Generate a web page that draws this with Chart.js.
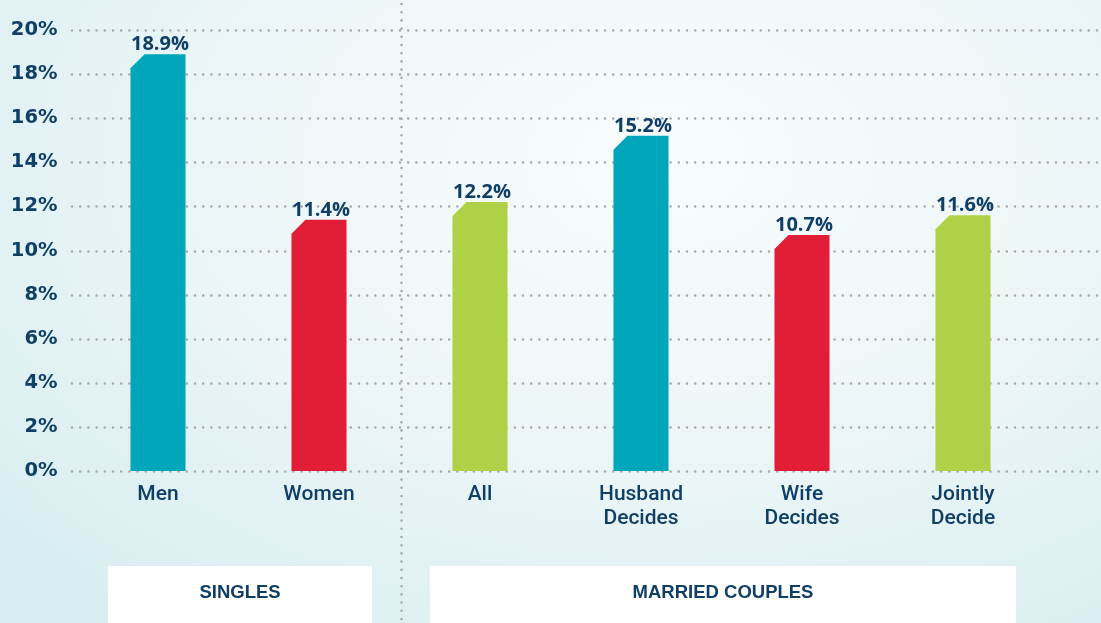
<!DOCTYPE html>
<html>
<head>
<meta charset="utf-8">
<script src="https://cdn.jsdelivr.net/npm/chart.js@4.4.1/dist/chart.umd.min.js"></script>
<style>
  html, body { margin: 0; padding: 0; }
  body {
    width: 1101px; height: 623px; overflow: hidden;
    background: radial-gradient(ellipse 78% 90% at 60% 26%, #f8fcfd 0%, #eef7f8 45%, #d9eef1 100%);
  }
  #wrap { position: relative; width: 1101px; height: 623px; }
</style>
</head>
<body>
<div id="wrap"><canvas id="chart" width="1101" height="623"></canvas></div>
<script>
const categories = [['Men'], ['Women'], ['All'], ['Husband', 'Decides'], ['Wife', 'Decides'], ['Jointly', 'Decide']];
const values = [18.9, 11.4, 12.2, 15.2, 10.7, 11.6];
const barColors = ['#00a6ba', '#e11d37', '#afd147', '#00a6ba', '#e11d37', '#afd147'];
const groupLabels = ['SINGLES', 'MARRIED COUPLES'];
const groupFirst = [0, 2];
const groupLast = [1, 5];
const yMax = 20;
const yStep = 2;

const NAVY = '#0f3e66';
const DOT = '#a9a9a9';

function dotted(ctx, x1, y1, x2, y2) {
  ctx.save();
  ctx.strokeStyle = DOT;
  ctx.lineWidth = 2.6;
  ctx.lineCap = 'round';
  ctx.setLineDash([0, 8.2]);
  ctx.beginPath();
  ctx.moveTo(x1, y1);
  ctx.lineTo(x2, y2);
  ctx.stroke();
  ctx.restore();
}

const gridPlugin = {
  id: 'dotGrid',
  beforeDatasetsDraw(chart) {
    const { ctx, scales: { x, y } } = chart;
    y.ticks.forEach(t => {
      const py = Math.round(y.getPixelForValue(t.value)) + 0.5;
      dotted(ctx, 72, py, chart.width, py);
    });
    // separator between the two groups
    const sx = (x.getPixelForValue(groupLast[0]) + x.getPixelForValue(groupFirst[1])) / 2 + 2;
    dotted(ctx, sx, 4, sx, chart.height);
  }
};

const bevelBars = {
  id: 'bevelBars',
  beforeDatasetDraw(chart, args) {
    const ctx = chart.ctx;
    const bevel = 14;
    args.meta.data.forEach((el, i) => {
      const { x, y, base, width } = el.getProps(['x', 'y', 'base', 'width'], true);
      const l = x - width / 2, r = x + width / 2;
      ctx.save();
      ctx.fillStyle = barColors[i];
      ctx.beginPath();
      ctx.moveTo(l, base);
      ctx.lineTo(l, y + bevel);
      ctx.lineTo(l + bevel, y);
      ctx.lineTo(r, y);
      ctx.lineTo(r, base);
      ctx.closePath();
      ctx.fill();
      ctx.restore();
    });
    return false;
  },
  afterDatasetsDraw(chart) {
    const ctx = chart.ctx;
    const meta = chart.getDatasetMeta(0);
    ctx.save();
    ctx.fillStyle = NAVY;
    ctx.font = 'bold 20px "Open Sans"';
    ctx.textAlign = 'center';
    ctx.textBaseline = 'alphabetic';
    meta.data.forEach((el, i) => {
      ctx.fillText(values[i].toFixed(1) + '%', el.x + 2, el.y - 4);
    });
    ctx.restore();
  }
};

const groupBoxes = {
  id: 'groupBoxes',
  afterDraw(chart) {
    const { ctx, scales: { x } } = chart;
    ctx.save();
    groupLabels.forEach((lab, g) => {
      const l = x.getPixelForValue(groupFirst[g]) - 50;
      const r = x.getPixelForValue(groupLast[g]) + 53;
      ctx.fillStyle = '#ffffff';
      ctx.fillRect(l, 566, r - l, chart.height - 566);
      ctx.fillStyle = NAVY;
      ctx.font = 'bold 18.5px "Liberation Sans"';
      ctx.textAlign = 'center';
      ctx.textBaseline = 'alphabetic';
      ctx.fillText(lab, (l + r) / 2, 598);
    });
    ctx.restore();
  }
};

new Chart(document.getElementById('chart'), {
  type: 'bar',
  data: {
    labels: categories,
    datasets: [{ data: values, backgroundColor: barColors, categoryPercentage: 1, barPercentage: 0.342 }]
  },
  options: {
    responsive: false,
    animation: false,
    devicePixelRatio: 1,
    layout: { padding: { top: 30, right: 57.5, left: 0, bottom: 0 } },
    plugins: { legend: { display: false }, tooltip: { enabled: false } },
    scales: {
      x: {
        offset: true,
        grid: { display: false },
        border: { display: false },
        ticks: { color: NAVY, font: { family: 'Roboto', size: 21, weight: 500, lineHeight: 1.15 }, padding: 4, maxRotation: 0, autoSkip: false },
        afterFit: s => { s.height = 152; }
      },
      y: {
        min: 0, max: yMax,
        grid: { display: false },
        border: { display: false },
        ticks: { stepSize: yStep, color: NAVY, font: { family: '"DejaVu Sans"', size: 19.5, weight: 'bold' }, padding: 12, callback: v => v + '%' },
        afterFit: s => { s.width = 77.5; }
      }
    }
  },
  plugins: [gridPlugin, bevelBars, groupBoxes]
});
</script>
</body>
</html>
